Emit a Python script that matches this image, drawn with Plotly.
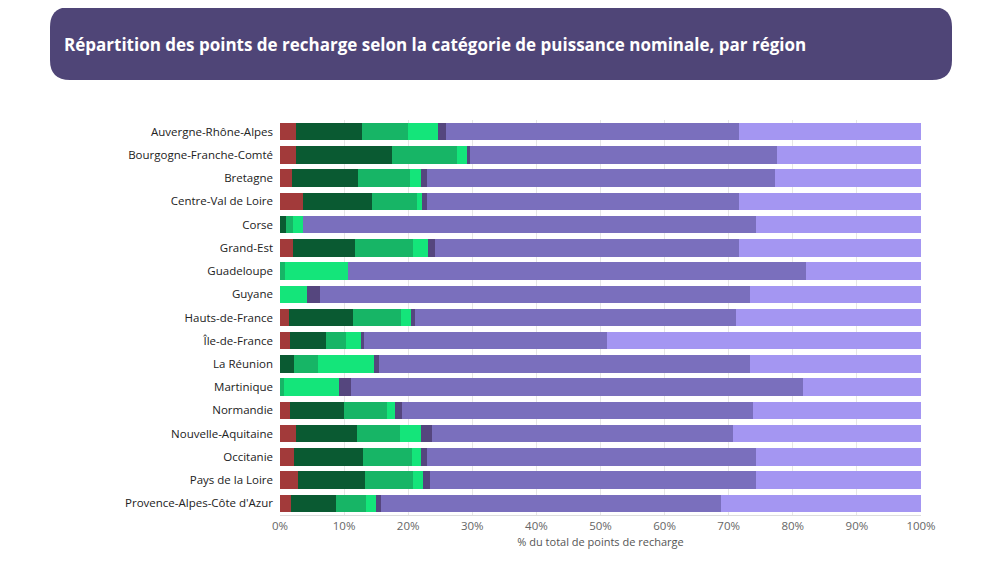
import plotly.graph_objects as go

regions = ["Auvergne-Rhône-Alpes", "Bourgogne-Franche-Comté", "Bretagne", "Centre-Val de Loire",
           "Corse", "Grand-Est", "Guadeloupe", "Guyane", "Hauts-de-France", "Île-de-France",
           "La Réunion", "Martinique", "Normandie", "Nouvelle-Aquitaine", "Occitanie",
           "Pays de la Loire", "Provence-Alpes-Côte d'Azur"]

s1 = [2.5, 2.5, 1.9, 3.6, 0, 2.0, 0, 0, 1.4, 1.6, 0, 0, 1.6, 2.5, 2.2, 2.8, 1.7]
s2 = [10.3, 15.0, 10.3, 10.8, 0.9, 9.7, 0, 0, 10.0, 5.6, 2.2, 0, 8.4, 9.5, 10.8, 10.5, 7.0]
s3 = [7.2, 10.1, 8.1, 7.0, 1.1, 9.0, 0.8, 0, 7.5, 3.1, 3.7, 0.6, 6.7, 6.7, 7.6, 7.4, 4.7]
s4 = [4.6, 1.6, 1.7, 0.8, 1.6, 2.4, 9.8, 4.2, 1.5, 2.3, 8.8, 8.6, 1.2, 3.3, 1.4, 1.6, 1.6]
s5 = [1.3, 0.4, 0.9, 0.7, 0, 1.1, 0, 2.0, 0.6, 0.5, 0.7, 1.9, 1.1, 1.7, 0.9, 1.1, 0.8]
s6 = [45.7, 47.9, 54.3, 48.7, 70.7, 47.4, 71.4, 67.1, 50.1, 37.9, 57.9, 70.5, 54.8, 47.0, 51.4, 50.9, 53.0]
s7 = [28.4, 22.5, 22.8, 28.4, 25.7, 28.4, 18.0, 26.7, 28.9, 49.0, 26.7, 18.4, 26.2, 29.3, 25.7, 25.7, 31.2]

series = [s1, s2, s3, s4, s5, s6, s7]
colors = ["#a23a3a", "#0a5a32", "#17b566", "#14e57a", "#55467e", "#7a6fbd", "#a496f2"]

# page has an 8px body offset, so pixel positions are shifted by -8
W, H = 1000, 563
pl, pr, pt, pb = 272, 87, 112, 56
pw, ph = W - pl - pr, H - pt - pb
def px(x): return (x - 8 - pl) / pw
def py(y): return 1 - (y - 8 - pt) / ph
def P(x, y): return f"{px(x):.5f},{py(y):.5f}"

fig = go.Figure()
for vals, c in zip(series, colors):
    fig.add_trace(go.Bar(y=regions, x=vals, orientation="h", marker=dict(color=c, line=dict(width=0)),
                         showlegend=False))

path = (f"M {P(70,7)} L {P(932,7)} Q {P(952,7)} {P(952,27)} L {P(952,60)} Q {P(952,80)} {P(932,80)} "
        f"L {P(70,80)} Q {P(50,80)} {P(50,60)} L {P(50,27)} Q {P(50,7)} {P(70,7)} Z")

fig.update_layout(
    barmode="stack", bargap=0.25,
    width=W, height=H,
    paper_bgcolor="white", plot_bgcolor="white",
    margin=dict(l=pl, r=pr, t=pt, b=pb),
    font=dict(family="Open Sans", size=11, color="#333"),
    xaxis=dict(range=[0, 100], tickvals=list(range(0, 101, 10)),
               ticktext=[f"{v}%" for v in range(0, 101, 10)],
               gridcolor="#e6e6e6", zeroline=False, showline=True, linecolor="#ddd",
               title=dict(text="% du total de points de recharge", font=dict(size=11, color="#555"), standoff=6),
               tickfont=dict(size=11.5, color="#666")),
    yaxis=dict(autorange="reversed", ticksuffix="  ", tickfont=dict(size=11.5, color="#222")),
    shapes=[dict(type="path", xref="paper", yref="paper", path=path,
                 fillcolor="#4f4577", line=dict(width=0), layer="below")],
)
fig.add_annotation(xref="paper", yref="paper", x=px(62), y=py(44), xanchor="left", yanchor="middle",
                   text="<b>Répartition des points de recharge selon la catégorie de puissance nominale, par région</b>",
                   showarrow=False, font=dict(size=17, color="white", family="Open Sans"))

fig.write_html("out.html")
